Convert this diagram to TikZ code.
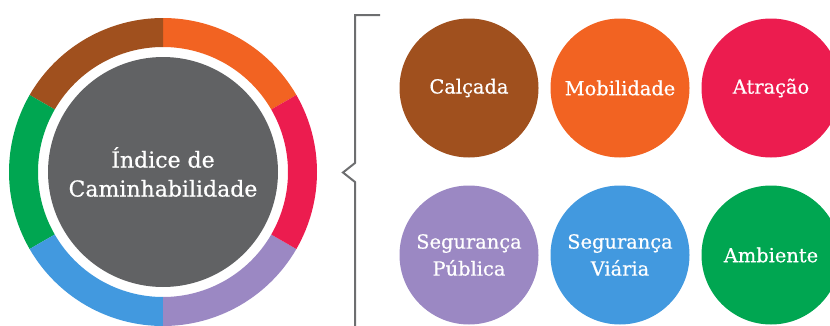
\documentclass[tikz,border=0pt]{standalone}
\usepackage{fontspec}
\setmainfont{DejaVu Serif}[FakeBold=0.6]
\usetikzlibrary{positioning}
\definecolor{brownC}{HTML}{A0501E}
\definecolor{orangeM}{HTML}{F26322}
\definecolor{redA}{HTML}{EC1C4F}
\definecolor{purpleP}{HTML}{9B88C3}
\definecolor{blueV}{HTML}{4299DF}
\definecolor{greenE}{HTML}{00A651}
\definecolor{grayI}{HTML}{616264}
\definecolor{grayB}{HTML}{6D6E70}
\tikzstyle{factor} = [circle, minimum size=139pt, inner sep=0pt,
    text=white, align=center, font=\fontsize{19.4}{27}\selectfont]
\tikzstyle{hub} = [circle, fill=grayI, minimum size=230pt, inner sep=0pt,
    text=white, align=center, font=\fontsize{22}{29}\selectfont]

\begin{document}
\begin{tikzpicture}[x=1pt,y=1pt]
\useasboundingbox (0,0) rectangle (830,325);
\begin{scope}[shift={(163,153)}]
    %ring
    \foreach \col/\a in {orangeM/30, brownC/90, greenE/150, blueV/210, purpleP/270, redA/330}
        \fill[\col] (\a:154) arc[start angle=\a, delta angle=60, radius=154]
            -- (\a+60:125) arc[start angle=\a+60, delta angle=-60, radius=125] -- cycle;
    %center
    \node[hub] (indice) at (0,0) {Índice de\\Caminhabilidade};
\end{scope}
%bracket
\draw[grayB, line width=2pt] (380,310) -- (355,310) -- (355,162) -- (343,152.5)
    -- (355,143) -- (355,-2);
%circles
\node[factor, fill=brownC] (calcada) at (469,237) {Calçada};
\node[factor, fill=orangeM] (mobilidade) at (620,237) {Mobilidade};
\node[factor, fill=redA] (atracao) at (771,237) {Atração};
\node[factor, fill=purpleP] (segpublica) at (469,70) {Segurança\\Pública};
\node[factor, fill=blueV] (segviaria) at (620,70) {Segurança\\Viária};
\node[factor, fill=greenE] (ambiente) at (771,70) {Ambiente};
\end{tikzpicture}
\end{document}
